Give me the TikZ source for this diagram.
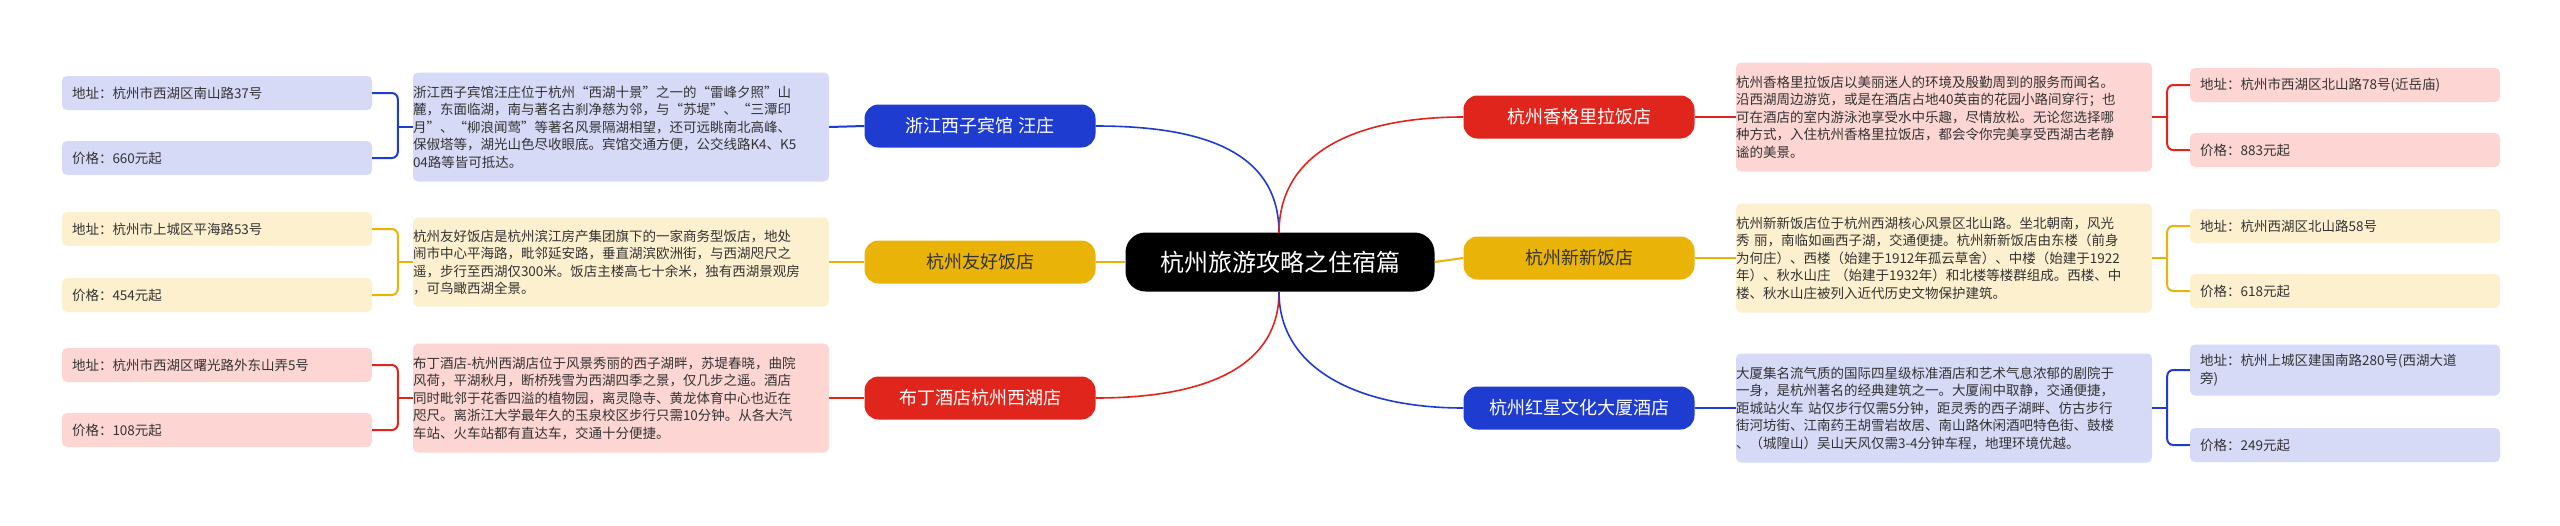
\documentclass[tikz,border=0pt]{standalone}
\usepackage{fontspec}
\setmainfont{Noto Sans CJK SC}
\begin{document}
\begin{tikzpicture}[x=1pt,y=-1pt,
  every node/.style={font=\fontsize{13.5}{17.5}\selectfont},
  desc/.style={rounded corners=5pt,inner sep=0pt,text width=416pt,align=left,minimum height=#1,text height=12pt},
  leaf/.style={rounded corners=5pt,minimum width=310pt,minimum height=#1,text width=290pt,align=left,inner sep=0pt},
  br/.style={rounded corners=14pt,minimum width=231pt,minimum height=43pt,font=\fontsize{18}{20}\selectfont},
  ln/.style={line width=2pt},
  bl/.style={color=cb}, yl/.style={color=cy}, rl/.style={color=cr}]
\definecolor{cb}{HTML}{1F3CD0}\definecolor{cy}{HTML}{EAB308}\definecolor{cr}{HTML}{E0261C}
\definecolor{fb}{HTML}{D6DAF7}\definecolor{fy}{HTML}{FDF0CF}\definecolor{fr}{HTML}{FDD6D3}
\definecolor{tx}{HTML}{333333}
\useasboundingbox (0,0) rectangle (2560,525);
\fill[white] (0,0) rectangle (2560,525);
% center
\node[fill=black,text=white,rounded corners=20pt,minimum width=309pt,minimum height=59pt,font=\fontsize{24}{26}\selectfont] (c) at (1280,262) {杭州旅游攻略之住宿篇};
\coordinate (ct) at (1279,233); \coordinate (cbm) at (1279,292);
% branches
\node[br,fill=cb,text=white] (b1) at (980,126) {浙江西子宾馆 汪庄};
\node[br,fill=cy,text=tx] (b2) at (980,262) {杭州友好饭店};
\node[br,fill=cr,text=white] (b3) at (980,398) {布丁酒店杭州西湖店};
\node[br,fill=cr,text=white] (b4) at (1579,117) {杭州香格里拉饭店};
\node[br,fill=cy,text=tx] (b5) at (1579,258) {杭州新新饭店};
\node[br,fill=cb,text=white] (b6) at (1579,408) {杭州红星文化大厦酒店};
\draw[ln,cb,line width=1.6pt] (ct) .. controls (1279,150) and (1200,126) .. (b1.east);
\draw[ln,cy] (c.west) -- (b2.east);
\draw[ln,cr,line width=1.6pt] (cbm) .. controls (1279,370) and (1200,398) .. (b3.east);
\draw[ln,cr,line width=1.6pt] (ct) .. controls (1279,150) and (1360,117) .. (b4.west);
\draw[ln,cy] (c.east) -- (b5.west);
\draw[ln,cb,line width=1.6pt] (cbm) .. controls (1279,370) and (1360,408) .. (b6.west);
% descriptions
\node[desc=109pt,fill=fb,text=tx] (d1) at (621,127) {浙江西子宾馆汪庄位于杭州“西湖十景”之一的“雷峰夕照”山\\麓，东面临湖，南与著名古刹净慈为邻，与“苏堤”、“三潭印\\月”、“柳浪闻莺”等著名风景隔湖相望，还可远眺南北高峰、\\保俶塔等，湖光山色尽收眼底。宾馆交通方便，公交线路K4、K5\\04路等皆可抵达。};
\node[desc=89pt,fill=fy,text=tx] (d2) at (621,262) {杭州友好饭店是杭州滨江房产集团旗下的一家商务型饭店，地处\\闹市中心平海路，毗邻延安路，垂直湖滨欧洲街，与西湖咫尺之\\遥，步行至西湖仅300米。饭店主楼高七十余米，独有西湖景观房\\，可鸟瞰西湖全景。};
\node[desc=109pt,fill=fr,text=tx] (d3) at (621,398) {布丁酒店-杭州西湖店位于风景秀丽的西子湖畔，苏堤春晓，曲院\\风荷，平湖秋月，断桥残雪为西湖四季之景，仅几步之遥。酒店\\同时毗邻于花香四溢的植物园，离灵隐寺、黄龙体育中心也近在\\咫尺。离浙江大学最年久的玉泉校区步行只需10分钟。从各大汽\\车站、火车站都有直达车，交通十分便捷。};
\node[desc=109pt,fill=fr,text=tx] (d4) at (1944,117) {杭州香格里拉饭店以美丽迷人的环境及殷勤周到的服务而闻名。\\沿西湖周边游览，或是在酒店占地40英亩的花园小路间穿行；也\\可在酒店的室内游泳池享受水中乐趣，尽情放松。无论您选择哪\\种方式，入住杭州香格里拉饭店，都会令你完美享受西湖古老静\\谧的美景。};
\node[desc=109pt,fill=fy,text=tx] (d5) at (1944,258) {杭州新新饭店位于杭州西湖核心风景区北山路。坐北朝南，风光\\秀 丽，南临如画西子湖，交通便捷。杭州新新饭店由东楼（前身\\为何庄）、西楼（始建于1912年孤云草舍）、中楼（始建于1922\\年）、秋水山庄 （始建于1932年）和北楼等楼群组成。西楼、中\\楼、秋水山庄被列入近代历史文物保护建筑。};
\node[desc=109pt,fill=fb,text=tx] (d6) at (1944,408) {大厦集名流气质的国际四星级标准酒店和艺术气息浓郁的剧院于\\一身，是杭州著名的经典建筑之一。大厦闹中取静，交通便捷，\\距城站火车 站仅步行仅需5分钟，距灵秀的西子湖畔、仿古步行\\街河坊街、江南药王胡雪岩故居、南山路休闲酒吧特色街、鼓楼\\、（城隍山）吴山天风仅需3-4分钟车程，地理环境优越。};
\draw[ln,cb] (b1.west) -- (d1.east);
\draw[ln,cy] (b2.west) -- (d2.east);
\draw[ln,cr] (b3.west) -- (d3.east);
\draw[ln,cr] (b4.east) -- (d4.west);
\draw[ln,cy] (b5.east) -- (d5.west);
\draw[ln,cb] (b6.east) -- (d6.west);
% leaves
\node[leaf=34pt,fill=fb,text=tx] (l1a) at (217,93) {地址：杭州市西湖区南山路37号};
\node[leaf=34pt,fill=fb,text=tx] (l1b) at (217,158) {价格：660元起};
\node[leaf=34pt,fill=fy,text=tx] (l2a) at (217,229) {地址：杭州市上城区平海路53号};
\node[leaf=34pt,fill=fy,text=tx] (l2b) at (217,295) {价格：454元起};
\node[leaf=34pt,fill=fr,text=tx] (l3a) at (217,365) {地址：杭州市西湖区曙光路外东山弄5号};
\node[leaf=34pt,fill=fr,text=tx] (l3b) at (217,430) {价格：108元起};
\node[leaf=34pt,fill=fr,text=tx] (l4a) at (2345,85) {地址：杭州市西湖区北山路78号(近岳庙)};
\node[leaf=34pt,fill=fr,text=tx] (l4b) at (2345,150) {价格：883元起};
\node[leaf=34pt,fill=fy,text=tx] (l5a) at (2345,226) {地址：杭州西湖区北山路58号};
\node[leaf=34pt,fill=fy,text=tx] (l5b) at (2345,291) {价格：618元起};
\node[leaf=51pt,fill=fb,text=tx] (l6a) at (2345,370) {地址：杭州上城区建国南路280号(西湖大道\\旁)};
\node[leaf=34pt,fill=fb,text=tx] (l6b) at (2345,445) {价格：249元起};
% brackets
\foreach \d/\a/\b/\c in {d1/l1a/l1b/cb,d2/l2a/l2b/cy,d3/l3a/l3b/cr}{
  \draw[ln,\c] (\d.west) -- ++(-15,0);
  \draw[ln,\c,rounded corners=6pt] (\a.east) -| ([xshift=-15]\d.west) |- (\b.east);
}
\foreach \d/\a/\b/\c in {d4/l4a/l4b/cr,d5/l5a/l5b/cy,d6/l6a/l6b/cb}{
  \draw[ln,\c] (\d.east) -- ++(15,0);
  \draw[ln,\c,rounded corners=6pt] (\a.west) -| ([xshift=15]\d.east) |- (\b.west);
}
\end{tikzpicture}
\end{document}
